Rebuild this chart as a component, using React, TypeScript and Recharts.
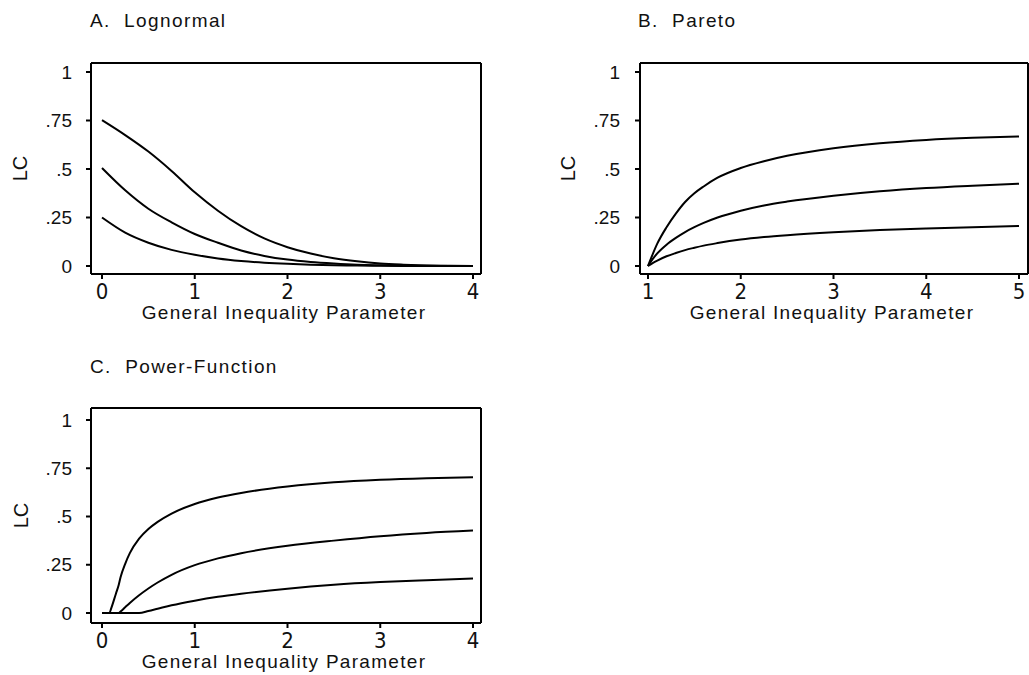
import React from 'react';
import { LineChart, Line, XAxis, YAxis } from 'recharts';

const FONT = "'Liberation Sans', Arial, Helvetica, sans-serif";
const NARROW = "'Liberation Sans Narrow', 'Arial Narrow', 'DejaVu Sans Condensed', 'Liberation Sans', Arial, sans-serif";
const INK = '#111';

const lcTicks = [0, 0.25, 0.5, 0.75, 1];
const zeroToFour = [0, 1, 2, 3, 4];
const oneToFive = [1, 2, 3, 4, 5];

// A. Lognormal
const lognormalX = [0, 0.25, 0.5, 0.75, 1, 1.25, 1.5, 1.75, 2, 2.25, 2.5, 2.75, 3, 3.25, 3.5, 3.75, 4];
const lognormalHigh = [0.752, 0.675, 0.59, 0.49, 0.38, 0.285, 0.205, 0.142, 0.097, 0.064, 0.04, 0.024, 0.013, 0.007, 0.003, 0.001, 0];
const lognormalMid = [0.505, 0.39, 0.295, 0.225, 0.165, 0.12, 0.08, 0.052, 0.033, 0.021, 0.013, 0.007, 0.004, 0.002, 0.001, 0, 0];
const lognormalLow = [0.25, 0.172, 0.12, 0.083, 0.058, 0.039, 0.026, 0.017, 0.011, 0.007, 0.004, 0.002, 0.001, 0, 0, 0, 0];

// B. Pareto
const paretoX = [1, 1.05, 1.1, 1.2, 1.3, 1.4, 1.5, 1.6, 1.75, 2, 2.25, 2.5, 3, 3.5, 4, 4.5, 5];
const paretoHigh = [0, 0.06, 0.115, 0.2, 0.27, 0.33, 0.375, 0.41, 0.455, 0.505, 0.54, 0.568, 0.607, 0.633, 0.65, 0.661, 0.668];
const paretoMid = [0, 0.035, 0.065, 0.11, 0.145, 0.175, 0.2, 0.222, 0.25, 0.285, 0.312, 0.332, 0.362, 0.385, 0.402, 0.414, 0.424];
const paretoLow = [0, 0.015, 0.028, 0.05, 0.067, 0.082, 0.094, 0.105, 0.118, 0.136, 0.149, 0.159, 0.174, 0.185, 0.193, 0.2, 0.206];

// C. Power-Function
const powerX = [0, 0.08, 0.1, 0.15, 0.18, 0.2, 0.25, 0.3, 0.4, 0.5, 0.6, 0.75, 1, 1.25, 1.5, 2, 2.5, 3, 3.5, 4];
const powerHigh = [0, 0, 0.025, 0.1, 0.145, 0.185, 0.255, 0.31, 0.385, 0.435, 0.472, 0.515, 0.565, 0.598, 0.622, 0.655, 0.677, 0.69, 0.698, 0.703];
const powerMid = [0, 0, 0, 0, 0, 0.008, 0.03, 0.052, 0.092, 0.127, 0.158, 0.198, 0.248, 0.283, 0.31, 0.348, 0.375, 0.398, 0.415, 0.427];
const powerLow = [0, 0, 0, 0, 0, 0, 0, 0, 0, 0.01, 0.022, 0.04, 0.064, 0.084, 0.1, 0.126, 0.146, 0.16, 0.17, 0.179];

type Row = { x: number; high: number; mid: number; low: number };

const toRows = (xs: number[], high: number[], mid: number[], low: number[]): Row[] =>
  xs.map((x, i) => ({ x, high: high[i], mid: mid[i], low: low[i] }));

const fmtLC = (v: number) => (v === 0 ? '0' : v === 1 ? '1' : String(v).replace(/^0/, ''));

const frame = { stroke: '#000', strokeWidth: 2 };

interface PanelProps {
  title: string;
  rows: Row[];
  xDomain: [number, number];
  xTicks: number[];
  left: number;
  top: number;
  width: number;
  height: number;
  plot: { left: number; top: number; right: number; bottom: number };
  xPad: { left: number; right: number };
  yPad: { top: number; bottom: number };
  lcOffset: number;
  yTickMargin: number;
  titleLeft: number;
  titleTop: number;
}

const Panel: React.FC<PanelProps> = (p) => {
  const bottomH = p.height - p.plot.bottom;
  const rightW = p.width - p.plot.right;
  return (
    <>
      <div
        style={{
          position: 'absolute',
          left: p.titleLeft,
          top: p.titleTop,
          fontFamily: FONT,
          fontSize: 19,
          lineHeight: '19px',
          letterSpacing: '1.4px',
          whiteSpace: 'pre',
          color: INK,
        }}
      >
        {p.title}
      </div>
      <div style={{ position: 'absolute', left: p.left, top: p.top }}>
        <LineChart
          width={p.width}
          height={p.height}
          data={p.rows}
          margin={{ top: 0, right: 0, bottom: 0, left: 0 }}
          style={{ fontFamily: FONT }}
        >
          {/* top frame with tick marks only */}
          <XAxis
            xAxisId="top"
            orientation="top"
            type="number"
            dataKey="x"
            domain={p.xDomain}
            ticks={p.xTicks}
            interval={0}
            height={p.plot.top}
            padding={p.xPad}
            tick={false}
            tickSize={6}
            axisLine={frame}
            tickLine={frame}
          />
          <XAxis
            type="number"
            dataKey="x"
            domain={p.xDomain}
            ticks={p.xTicks}
            interval={0}
            height={bottomH}
            padding={p.xPad}
            tickSize={5}
            tickMargin={4}
            tick={{ fill: INK, fontSize: 22, fontFamily: NARROW }}
            axisLine={frame}
            tickLine={frame}
            label={{
              value: 'General Inequality Parameter',
              position: 'insideBottom',
              offset: bottomH - 45,
              dx: -2,
              fill: INK,
              fontSize: 19,
              style: { letterSpacing: '1.3px' },
            }}
          />
          <YAxis
            type="number"
            domain={[0, 1]}
            ticks={lcTicks}
            interval={0}
            width={p.plot.left}
            padding={p.yPad}
            tickSize={5}
            tickMargin={p.yTickMargin}
            tickFormatter={fmtLC}
            tick={{ fill: INK, fontSize: 19 }}
            axisLine={frame}
            tickLine={frame}
            label={{
              value: 'LC',
              angle: -90,
              position: 'insideLeft',
              offset: p.lcOffset,
              fill: INK,
              fontSize: 20,
              style: { textAnchor: 'middle' },
            }}
          />
          <YAxis
            yAxisId="right"
            orientation="right"
            type="number"
            domain={[0, 1]}
            ticks={lcTicks}
            interval={0}
            width={rightW}
            padding={p.yPad}
            tick={false}
            tickSize={8}
            axisLine={frame}
            tickLine={frame}
          />
          <Line type="monotone" dataKey="high" stroke="#000" strokeWidth={2} dot={false} isAnimationActive={false} />
          <Line type="monotone" dataKey="mid" stroke="#000" strokeWidth={2} dot={false} isAnimationActive={false} />
          <Line type="monotone" dataKey="low" stroke="#000" strokeWidth={2} dot={false} isAnimationActive={false} />
        </LineChart>
      </div>
    </>
  );
};

export default function App() {
  return (
    <div style={{ position: 'absolute', left: 0, top: 0, width: 1029, height: 675, background: '#fff', overflow: 'hidden' }}>
      <Panel
        title="A.  Lognormal"
        rows={toRows(lognormalX, lognormalHigh, lognormalMid, lognormalLow)}
        xDomain={[0, 4]}
        xTicks={zeroToFour}
        left={0}
        top={0}
        width={500}
        height={335}
        plot={{ left: 91, top: 63, right: 481, bottom: 274 }}
        xPad={{ left: 11, right: 8 }}
        yPad={{ top: 9, bottom: 8 }}
        lcOffset={20}
        yTickMargin={14}
        titleLeft={90}
        titleTop={11}
      />
      <Panel
        title="B.  Pareto"
        rows={toRows(paretoX, paretoHigh, paretoMid, paretoLow)}
        xDomain={[1, 5]}
        xTicks={oneToFive}
        left={520}
        top={0}
        width={509}
        height={335}
        plot={{ left: 120, top: 63, right: 508, bottom: 274 }}
        xPad={{ left: 8, right: 9 }}
        yPad={{ top: 9, bottom: 8 }}
        lcOffset={48}
        yTickMargin={15}
        titleLeft={638}
        titleTop={11}
      />
      <Panel
        title="C.  Power-Function"
        rows={toRows(powerX, powerHigh, powerMid, powerLow)}
        xDomain={[0, 4]}
        xTicks={zeroToFour}
        left={0}
        top={345}
        width={500}
        height={330}
        plot={{ left: 91, top: 63, right: 481, bottom: 278 }}
        xPad={{ left: 11, right: 8 }}
        yPad={{ top: 12, bottom: 10 }}
        lcOffset={21}
        yTickMargin={14}
        titleLeft={90}
        titleTop={357}
      />
    </div>
  );
}
